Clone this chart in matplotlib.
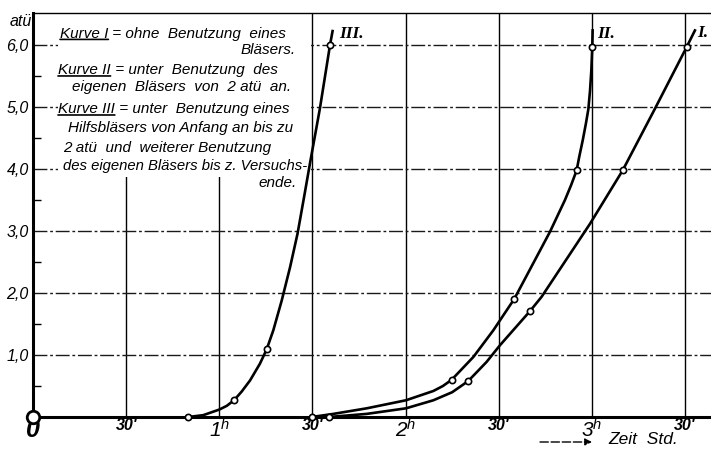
import matplotlib.pyplot as plt
from matplotlib.patches import Rectangle

plt.rcParams['font.family'] = ['Liberation Sans', 'DejaVu Sans']
plt.rcParams['font.style'] = 'italic'
plt.rcParams['font.stretch'] = 'condensed'
plt.rcParams['mathtext.fontset'] = 'custom'
plt.rcParams['mathtext.rm'] = 'Liberation Sans:italic'
plt.rcParams['mathtext.it'] = 'Liberation Sans:italic'

# Zeit in Std., Druck in atue
# Kurve I = ohne Blaeser
t1 = [1.589, 1.791, 2.002, 2.149, 2.25, 2.336, 2.435, 2.507, 2.668, 2.73, 2.99, 3.165, 3.339, 3.51, 3.553]
p1 = [0.0, 0.05, 0.14, 0.27, 0.40, 0.58, 0.89, 1.16, 1.71, 1.94, 3.12, 3.98, 4.98, 5.98, 6.24]
t1_mess = [1.589, 2.336, 2.668, 3.165, 3.51]
p1_mess = [0.0, 0.58, 1.71, 3.98, 5.98]

# Kurve II = eigener Blaeser ab 2 atue
t2 = [1.496, 1.612, 1.791, 2.002, 2.149, 2.20, 2.247, 2.364, 2.471, 2.582, 2.60, 2.775, 2.855, 2.888,
      2.918, 2.932, 2.951, 2.968, 2.981, 2.990, 2.997, 3.002, 3.004]
p2 = [0.0, 0.05, 0.14, 0.27, 0.42, 0.50, 0.60, 0.97, 1.40, 1.90, 2.0, 2.99, 3.50, 3.74,
      3.98, 4.20, 4.47, 4.74, 4.97, 5.27, 5.60, 5.98, 6.24]
t2_mess = [1.496, 2.247, 2.582, 2.918, 3.002]
p2_mess = [0.0, 0.60, 1.90, 3.98, 5.98]

# Kurve III = Hilfsblaeser
t3 = [0.834, 0.914, 1.0, 1.04, 1.079, 1.12, 1.165, 1.218, 1.254, 1.290, 1.335, 1.38, 1.42, 1.455,
      1.49, 1.540, 1.594, 1.608]
p3 = [0.0, 0.03, 0.12, 0.18, 0.27, 0.41, 0.59, 0.86, 1.09, 1.40, 1.88, 2.42, 2.96, 3.55,
      4.15, 4.98, 6.00, 6.23]
t3_mess = [0.834, 1.079, 1.254, 1.594]
p3_mess = [0.0, 0.27, 1.09, 6.00]

x_ticks = [0, 0.5, 1, 1.5, 2, 2.5, 3, 3.5]
x_labels = ['0', "30'", r'$1^{h}$', "30'", r'$2^{h}$', "30'", r'$3^{h}$', "30'"]
y_ticks = [1, 2, 3, 4, 5, 6]
y_labels = ['1,0', '2,0', '3,0', '4,0', '5,0', '6,0']
y_minor = [0.5, 1.5, 2.5, 3.5, 4.5, 5.5]

fig = plt.figure(figsize=(7.11, 4.49), dpi=100)
ax = fig.add_axes([33/711, 1 - 417/449, 678/711, 404/449])
ax.set_xlim(0, 678/186.3)
ax.set_ylim(0, 404/61.95)

for x in x_ticks[1:]:
    ax.axvline(x, color='black', lw=1.0, zorder=1)
for y in y_ticks:
    ax.axhline(y, color='0.1', lw=1.0, dashes=(10, 2, 2, 2), zorder=1)

# white field for the explanation text
ax.add_patch(Rectangle((0.134, 3.88), 1.49 - 0.134, 3.0, fc='white', ec='none', zorder=2))

for t, p in [(t1, p1), (t2, p2), (t3, p3)]:
    ax.plot(t, p, color='black', lw=1.9, zorder=3, clip_on=False, solid_joinstyle='round')
for t, p in [(t1_mess, p1_mess), (t2_mess, p2_mess), (t3_mess, p3_mess)]:
    ax.plot(t, p, 'o', ms=4.5, mfc='white', mec='black', mew=1.2, zorder=4, clip_on=False)
ax.plot(0, 0, 'o', ms=9, mfc='white', mec='black', mew=2, zorder=5, clip_on=False)

rom = dict(family='Liberation Serif', style='italic', weight='bold', fontsize=12.5, va='center', zorder=5)
ax.text(1.645, 6.19, 'III.', **rom)
ax.text(3.03, 6.19, 'II.', **rom)
ax.text(3.565, 6.2, 'I.', **rom)

fs = 11


def kurve(x, y, num, rest):
    k = ax.text(x, y, 'Kurve ' + num, fontsize=fs, va='center', zorder=5)
    ax.annotate(rest, xy=(1, 0), xycoords=k, va='bottom', fontsize=fs, zorder=5)
    ax.annotate('', xy=(0, 0.08), xycoords=k, xytext=(1, 0.08), textcoords=k, zorder=5,
                arrowprops=dict(arrowstyle='-', lw=1.2, shrinkA=0, shrinkB=0))


kurve(0.145, 6.19, 'I', ' = ohne  Benutzung  eines')
ax.text(1.412, 5.92, 'Bläsers.', fontsize=fs, ha='right', va='center', zorder=5)
kurve(0.134, 5.60, 'II', ' = unter  Benutzung  des')
ax.text(0.209, 5.32, 'eigenen  Bläsers  von  2 atü  an.', fontsize=fs, va='center', zorder=5)
kurve(0.134, 4.97, 'III', ' = unter  Benutzung eines')
ax.text(0.188, 4.66, 'Hilfsbläsers von Anfang an bis zu', fontsize=fs, va='center', zorder=5)
ax.text(0.161, 4.35, '2 atü  und  weiterer Benutzung', fontsize=fs, va='center', zorder=5)
ax.text(0.161, 4.05, 'des eigenen Bläsers bis z. Versuchs-', fontsize=10.7, va='center', zorder=5)
ax.text(1.417, 3.77, 'ende.', fontsize=fs, ha='right', va='center', zorder=5)

ax.set_xticks(x_ticks, x_labels)
ax.set_yticks(y_ticks, y_labels)
ax.set_yticks(y_minor, minor=True)
ax.tick_params(axis='x', length=0, pad=1)
ax.tick_params(axis='y', which='major', length=0, pad=3, labelsize=11.5)
ax.tick_params(axis='y', which='minor', direction='in', length=6, width=1)
for lab in ax.get_xticklabels():
    txt = lab.get_text()
    if txt == '0':
        lab.set_fontsize(18)
    elif 'h' in txt:
        lab.set_fontsize(15)
    else:
        lab.set_fontsize(11.5)
    lab.set_fontweight('bold')

ax.spines['left'].set_linewidth(2.2)
ax.spines['bottom'].set_linewidth(2.2)
ax.spines['top'].set_linewidth(1.0)
ax.spines['right'].set_visible(False)

fig.text(32/711, 1 - 22/449, 'atü', fontsize=11.5, ha='right', va='center')
ax.annotate('', xy=(592/711, 1 - 442/449), xycoords='figure fraction',
            xytext=(540/711, 1 - 442/449), textcoords='figure fraction',
            arrowprops=dict(arrowstyle='-|>', lw=1.0, color='black', ls=(0, (6, 2)),
                            shrinkA=0, shrinkB=0, mutation_scale=10))
fig.text(608/711, 1 - 440/449, 'Zeit  Std.', fontsize=12.5, va='center')

fig.savefig('out.png', dpi=100)
